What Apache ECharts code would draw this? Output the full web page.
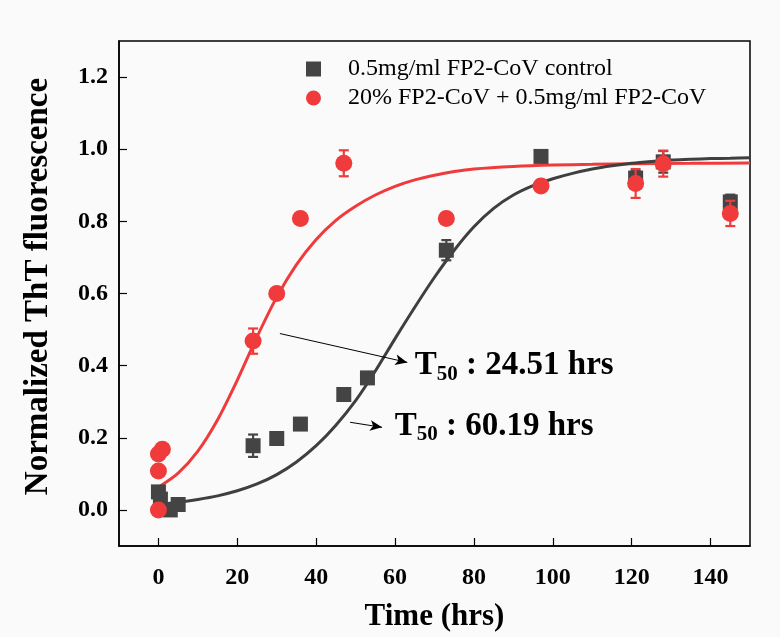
<!DOCTYPE html>
<html>
<head>
<meta charset="utf-8">
<script src="https://cdn.jsdelivr.net/npm/echarts@6/dist/echarts.min.js"></script>
<style>
  html, body { margin: 0; padding: 0; background: #fafafa; }
  #chart { width: 780px; height: 637px; }
</style>
</head>
<body>
<div id="chart"></div>
<script>
// measured points (time in hrs, normalized ThT)
const controlX = [0, 0.5, 3, 5, 24, 30, 36, 47, 53, 73, 97, 121, 128, 145];
const controlY = [0.05, 0.03, 0.0, 0.015, 0.178, 0.198, 0.238, 0.32, 0.366, 0.72, 0.98, 0.92, 0.965, 0.854];
const controlErr = [0.01, 0.01, 0.01, 0.01, 0.031, 0.008, 0.008, 0.01, 0.008, 0.028, 0.01, 0.02, 0.03, 0.02];

const mixX = [0, 0, 0, 1, 24, 30, 36, 47, 73, 97, 121, 128, 145];
const mixY = [0.0, 0.108, 0.155, 0.168, 0.468, 0.6, 0.808, 0.961, 0.808, 0.898, 0.905, 0.96, 0.822];
const mixErr = [0.0, 0.0, 0.0, 0.0, 0.035, 0.0, 0.0, 0.036, 0.0, 0.0, 0.04, 0.036, 0.035];

// fitted sigmoid curves, every 5 hrs
const controlFitX = [0, 5, 10, 15, 20, 25, 30, 35, 40, 45, 50, 55, 60, 65, 70, 75, 80, 85, 90, 95, 100, 105, 110, 115, 120, 125, 130, 135, 140, 145, 150];
const controlFitY = [0.015, 0.021, 0.029, 0.039, 0.053, 0.072, 0.098, 0.133, 0.178, 0.235, 0.303, 0.385, 0.475, 0.562, 0.645, 0.72, 0.785, 0.836, 0.873, 0.899, 0.918, 0.933, 0.945, 0.954, 0.961, 0.966, 0.97, 0.972, 0.974, 0.975, 0.976];

const mixFitX = [0, 5, 10, 15, 20, 25, 30, 35, 40, 45, 50, 55, 60, 65, 70, 75, 80, 90, 100, 110, 120, 135, 150];
const mixFitY = [0.063, 0.102, 0.163, 0.25, 0.36, 0.48, 0.59, 0.68, 0.75, 0.803, 0.842, 0.873, 0.897, 0.915, 0.928, 0.938, 0.945, 0.952, 0.956, 0.958, 0.96, 0.961, 0.962];

const xTicks = [0, 20, 40, 60, 80, 100, 120, 140];
const yTicks = [0, 0.2, 0.4, 0.6, 0.8, 1.0, 1.2];

const GRAY = '#444444';
const RED = '#ef3b3b';
const FONT = 'Liberation Serif';

const zip = (xs, ys) => xs.map((x, i) => [x, ys[i]]);
const errData = (xs, ys, es) => xs.map((x, i) => [x, ys[i] - es[i], ys[i] + es[i]]);

// vertical error bar with caps
const errorBar = (color) => (params, api) => {
  const lo = api.coord([api.value(0), api.value(1)]);
  const hi = api.coord([api.value(0), api.value(2)]);
  if (Math.abs(hi[1] - lo[1]) < 2) return null;
  const w = 5;
  const style = { stroke: color, lineWidth: 2.2 };
  return {
    type: 'group',
    children: [
      { type: 'line', shape: { x1: lo[0], y1: lo[1], x2: hi[0], y2: hi[1] }, style },
      { type: 'line', shape: { x1: lo[0] - w, y1: lo[1], x2: lo[0] + w, y2: lo[1] }, style },
      { type: 'line', shape: { x1: hi[0] - w, y1: hi[1], x2: hi[0] + w, y2: hi[1] }, style }
    ]
  };
};

const t50Rich = {
  t: { fontFamily: FONT, fontWeight: 'bold', fontSize: 33, color: '#000' },
  s: { fontFamily: FONT, fontWeight: 'bold', fontSize: 21, color: '#000', padding: [17, 0, 0, 0] }
};

const chart = echarts.init(document.getElementById('chart'));

const option = {
  backgroundColor: '#fafafa',
  animation: false,
  grid: {
    left: 119, right: 30, top: 41, bottom: 90,
    show: true, borderColor: '#000', borderWidth: 1.5
  },
  legend: {
    orient: 'vertical',
    left: 301, top: 52,
    itemWidth: 15, itemHeight: 15,
    itemGap: 5,
    textStyle: { fontFamily: FONT, fontSize: 24, color: '#000', lineHeight: 24, padding: [0, 0, 0, 22] },
    data: [
      { name: '0.5mg/ml FP2-CoV control', icon: 'rect' },
      { name: '20% FP2-CoV + 0.5mg/ml FP2-CoV', icon: 'circle' }
    ]
  },
  xAxis: {
    type: 'value',
    min: -10, max: 150,
    name: 'Time (hrs)',
    nameLocation: 'middle',
    nameGap: 55,
    nameTextStyle: { fontFamily: FONT, fontWeight: 'bold', fontSize: 31, color: '#000' },
    axisLine: { onZero: false, lineStyle: { color: '#000', width: 1.5 } },
    axisTick: { inside: true, length: 8, customValues: xTicks, lineStyle: { color: '#000', width: 1.2 } },
    axisLabel: { customValues: xTicks, margin: 20, fontFamily: FONT, fontWeight: 'bold', fontSize: 24, color: '#000' },
    splitLine: { show: false }
  },
  yAxis: {
    type: 'value',
    min: -0.1, max: 1.3,
    name: 'Normalized ThT fluorescence',
    nameLocation: 'middle',
    nameGap: 64,
    nameTextStyle: { fontFamily: FONT, fontWeight: 'bold', fontSize: 33, color: '#000', padding: [0, 0, 0, 14] },
    axisLine: { onZero: false, lineStyle: { color: '#000', width: 1.5 } },
    axisTick: { inside: true, length: 8, customValues: yTicks, lineStyle: { color: '#000', width: 1.2 } },
    axisLabel: {
      customValues: yTicks, margin: 11,
      fontFamily: FONT, fontWeight: 'bold', fontSize: 24, color: '#000',
      formatter: (v) => v.toFixed(1)
    },
    splitLine: { show: false }
  },
  series: [
    {
      name: 'mix fit', type: 'line', data: zip(mixFitX, mixFitY),
      smooth: 0.3, showSymbol: false, silent: true, z: 2,
      lineStyle: { color: RED, width: 3 }
    },
    {
      name: 'control fit', type: 'line', data: zip(controlFitX, controlFitY),
      smooth: 0.3, showSymbol: false, silent: true, z: 2,
      lineStyle: { color: '#3f3f3f', width: 3 }
    },
    {
      name: 'control err', type: 'custom', data: errData(controlX, controlY, controlErr),
      renderItem: errorBar(GRAY), z: 3
    },
    {
      name: '0.5mg/ml FP2-CoV control', type: 'scatter', data: zip(controlX, controlY),
      symbol: 'rect', symbolSize: 15, z: 4,
      itemStyle: { color: GRAY, opacity: 1 }
    },
    {
      name: 'mix err', type: 'custom', data: errData(mixX, mixY, mixErr),
      renderItem: errorBar(RED), z: 5
    },
    {
      name: '20% FP2-CoV + 0.5mg/ml FP2-CoV', type: 'scatter', data: zip(mixX, mixY),
      symbol: 'circle', symbolSize: 17, z: 6,
      itemStyle: { color: RED, opacity: 1 },
      markLine: {
        silent: true,
        symbol: ['none', 'arrow'],
        symbolSize: [8, 12],
        label: { show: false },
        lineStyle: { color: '#000', width: 1, type: 'solid' },
        data: [
          [{ coord: [30.8, 0.489] }, { coord: [63.1, 0.409] }],
          [{ coord: [48.6, 0.243] }, { coord: [56.7, 0.229] }]
        ]
      },
      markPoint: {
        silent: true,
        symbol: 'circle',
        symbolSize: 0,
        data: [
          {
            coord: [65.0, 0.4],
            label: { show: true, position: 'right', distance: 0, formatter: '{t|T}{s|50}{t| : 24.51 hrs}', rich: t50Rich }
          },
          {
            coord: [59.9, 0.232],
            label: { show: true, position: 'right', distance: 0, formatter: '{t|T}{s|50}{t| : 60.19 hrs}', rich: t50Rich }
          }
        ]
      }
    }
  ]
};

chart.setOption(option);
</script>
</body>
</html>
